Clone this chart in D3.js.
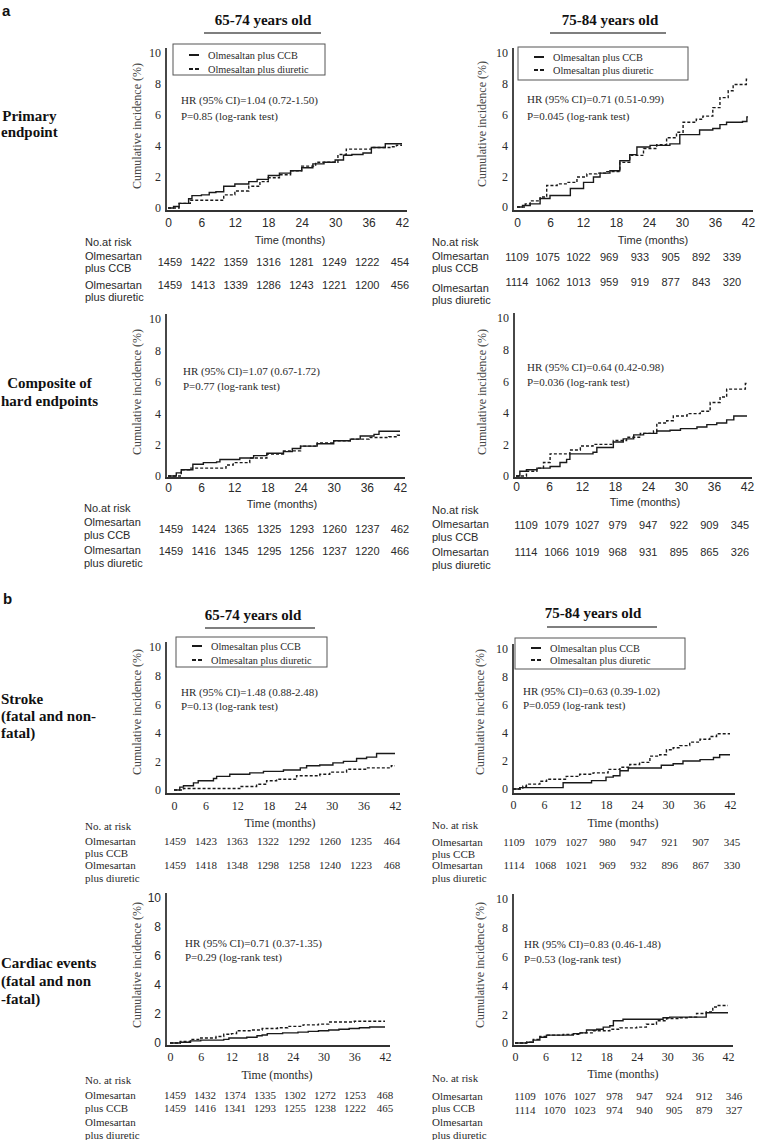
<!DOCTYPE html>
<html><head><meta charset="utf-8">
<script src="https://cdn.jsdelivr.net/npm/d3@7"></script>
<style>body{margin:0;background:#fff;} svg{display:block;}</style>
</head><body><svg id="c" width="758" height="1140"></svg>
<script>
// ---------- data ----------
const months = [0, 6, 12, 18, 24, 30, 36, 42];
const yTicks = [0, 2, 4, 6, 8, 10];
const legendLabels = ["Olmesaltan plus CCB", "Olmesaltan plus diuretic"];
const groupLabels = ["Olmesartan", "plus CCB", "Olmesartan", "plus diuretic"];
const ageTitles = ["65-74 years old", "75-84 years old"];

// cumulative incidence step points [month, %]
const aPrim65Ccb = [[0,0],[1,0.1],[2,0.3],[3.7,0.6],[4.3,0.8],[6,0.85],[7.4,1.0],[8.6,1.05],[10,1.4],[12,1.55],[14.5,1.7],[16,1.85],[18,2.1],[20,2.25],[22,2.4],[24,2.6],[26,2.85],[28,2.95],[30,3.1],[31.5,3.4],[33,3.45],[35,3.55],[36.5,3.9],[39,4.15],[42,4.15]];
const aPrim65Diu = [[0,0],[2,0.3],[4,0.5],[8,0.5],[10,0.85],[12,1.1],[14.5,1.4],[16.5,1.7],[18,1.95],[20,2.15],[22,2.4],[24,2.7],[26.5,2.95],[30.5,3.45],[32,3.8],[36.5,3.9],[40,3.95],[41,4.05],[42,4.05]];
const aPrim75Ccb = [[0,0],[1,0.1],[2.4,0.2],[4.2,0.55],[6,0.75],[9.7,1.2],[12.1,1.6],[13.9,1.95],[15.1,2.2],[16.9,2.35],[18.7,3.0],[20.5,3.4],[21.8,3.9],[24.2,4.0],[27.8,4.1],[29.6,4.7],[33.2,5.0],[35.6,5.1],[36.9,5.35],[38.1,5.5],[41,5.55],[41.8,5.85],[42,5.85]];
const aPrim75Diu = [[0,0],[1.5,0.2],[2.4,0.4],[4.2,0.65],[5.4,1.4],[7.3,1.5],[9.1,1.6],[10.9,1.95],[12.7,2.15],[14.5,2.2],[16.3,2.3],[18.7,2.9],[20.5,3.35],[23,3.8],[25.4,4.05],[27.2,4.5],[29,4.85],[30.2,5.5],[32.6,5.7],[33.8,5.9],[35.6,6.45],[36.9,7.1],[38.4,7.55],[39.3,7.95],[41.7,8.3],[42,8.3]];
const aHard65Ccb = [[0,0],[1.5,0.2],[2.4,0.4],[4.5,0.75],[6.4,0.85],[8.8,0.9],[9.4,1.05],[13,1.15],[15.5,1.3],[17.9,1.45],[20.9,1.55],[22.5,1.75],[24,1.9],[27,2.05],[30,2.25],[33,2.35],[34.8,2.55],[37.3,2.65],[38.2,2.85],[42,2.85]];
const aHard65Diu = [[0,0],[2.4,0.4],[3.9,0.5],[8.8,0.5],[10.5,0.7],[11.8,0.85],[14.8,1.15],[17.9,1.4],[20.9,1.6],[24,1.9],[27,2.1],[30,2.25],[33,2.35],[36.4,2.45],[40,2.5],[41.5,2.6],[42,2.6]];
const aHard75Ccb = [[0,0],[0.7,0.3],[1.9,0.4],[3.8,0.5],[6.2,0.6],[8,0.85],[9.2,1.05],[9.8,1.4],[14,1.5],[14.7,1.8],[17.7,2.15],[19.5,2.35],[21.4,2.6],[23.2,2.7],[25.6,2.85],[28,2.9],[29.9,3.0],[32.9,3.1],[34.7,3.25],[36.5,3.35],[38.3,3.55],[39.6,3.8],[42,3.8]];
const aHard75Diu = [[0,0],[1.9,0.3],[3.8,0.5],[5,0.85],[6.2,1.4],[9.8,1.65],[11.7,1.9],[14,2.0],[17.7,2.25],[20.1,2.45],[22.6,2.7],[25,2.85],[25.6,3.35],[27.4,3.5],[28.6,3.8],[31.1,3.95],[33.5,4.1],[35.3,4.65],[37.1,5.0],[38.3,5.5],[41.7,5.85],[42,5.85]];
const bStroke65Ccb = [[0,0],[1.1,0.2],[1.8,0.3],[3.7,0.5],[4.6,0.65],[7.5,0.8],[8.1,0.95],[10.6,1.1],[14.4,1.2],[17,1.3],[20.8,1.4],[24,1.55],[25.2,1.7],[27.7,1.75],[30.2,1.9],[32.2,2.0],[34.7,2.2],[36.6,2.3],[38.5,2.55],[42,2.55]];
const bStroke65Diu = [[0,0],[1.8,0.1],[11.3,0.1],[12.5,0.25],[15.7,0.4],[17.6,0.65],[19.5,0.75],[23.3,1.0],[27.7,1.1],[29.6,1.25],[32.8,1.45],[36.6,1.55],[41.3,1.7],[42,1.7]];
const bStroke75Ccb = [[0,0],[1.3,0.1],[9.7,0.45],[15.2,0.6],[18,0.85],[19.4,0.95],[20.7,1.3],[22.3,1.5],[28.7,1.7],[31,1.8],[32.9,2.0],[36.2,2.1],[38.8,2.25],[40,2.45],[42,2.45]];
const bStroke75Diu = [[0,0],[1.9,0.2],[2.6,0.35],[5.2,0.55],[6.5,0.7],[10.3,0.9],[12.9,1.05],[15.5,1.15],[18.4,1.4],[20.7,1.55],[22.6,1.75],[24.5,1.9],[26.5,2.35],[28.4,2.45],[29.7,2.8],[31,2.95],[32.3,3.1],[34.2,3.35],[36.2,3.55],[38.1,3.75],[39.4,3.95],[42,3.95]];
const bCard65Ccb = [[0,0],[2,0.05],[4,0.15],[6,0.2],[10.5,0.25],[11.5,0.35],[15,0.4],[17,0.5],[18,0.55],[19,0.65],[22,0.7],[25,0.75],[27,0.8],[29,0.85],[31,0.9],[33,0.95],[35,1.0],[37,1.05],[39,1.1],[42,1.1]];
const bCard65Diu = [[0,0],[2,0.1],[4,0.25],[6,0.35],[9,0.45],[10.5,0.6],[12,0.65],[13,0.85],[16,0.9],[18,1.0],[21,1.05],[23,1.15],[26,1.25],[29,1.3],[31,1.45],[36,1.5],[42,1.5]];
const bCard75Ccb = [[0,0],[2.3,0.05],[3.6,0.2],[4.9,0.4],[6.2,0.55],[11.5,0.65],[12.8,0.7],[14.1,0.9],[16.1,0.95],[17.4,1.1],[18.7,1.2],[19.4,1.55],[21.3,1.65],[29.2,1.75],[30.5,1.8],[37.7,2.1],[42,2.1]];
const bCard75Diu = [[0,0],[2.3,0.05],[3.6,0.25],[4.9,0.45],[6.2,0.55],[9.5,0.6],[12.8,0.7],[15.4,0.85],[18.7,0.95],[20.7,1.05],[24,1.1],[25.9,1.3],[27.9,1.55],[29.9,1.7],[32.5,1.75],[34.4,1.8],[35.8,2.05],[37.7,2.15],[39,2.5],[39.7,2.6],[42,2.6]];

// numbers at risk
const aPrim65RiskCcb = [1459,1422,1359,1316,1281,1249,1222,454];
const aPrim65RiskDiu = [1459,1413,1339,1286,1243,1221,1200,456];
const aPrim75RiskCcb = [1109,1075,1022,969,933,905,892,339];
const aPrim75RiskDiu = [1114,1062,1013,959,919,877,843,320];
const aHard65RiskCcb = [1459,1424,1365,1325,1293,1260,1237,462];
const aHard65RiskDiu = [1459,1416,1345,1295,1256,1237,1220,466];
const aHard75RiskCcb = [1109,1079,1027,979,947,922,909,345];
const aHard75RiskDiu = [1114,1066,1019,968,931,895,865,326];
const bStroke65RiskCcb = [1459,1423,1363,1322,1292,1260,1235,464];
const bStroke65RiskDiu = [1459,1418,1348,1298,1258,1240,1223,468];
const bStroke75RiskCcb = [1109,1079,1027,980,947,921,907,345];
const bStroke75RiskDiu = [1114,1068,1021,969,932,896,867,330];
const bCard65RiskCcb = [1459,1432,1374,1335,1302,1272,1253,468];
const bCard65RiskDiu = [1459,1416,1341,1293,1255,1238,1222,465];
const bCard75RiskCcb = [1109,1076,1027,978,947,924,912,346];
const bCard75RiskDiu = [1114,1070,1023,974,940,905,879,327];

// hazard ratio annotations
const aPrim65Stats = ["HR (95% CI)=1.04 (0.72-1.50)", "P=0.85 (log-rank test)"];
const aPrim75Stats = ["HR (95% CI)=0.71 (0.51-0.99)", "P=0.045 (log-rank test)"];
const aHard65Stats = ["HR (95% CI)=1.07 (0.67-1.72)", "P=0.77 (log-rank test)"];
const aHard75Stats = ["HR (95% CI)=0.64 (0.42-0.98)", "P=0.036 (log-rank test)"];
const bStroke65Stats = ["HR (95% CI)=1.48 (0.88-2.48)", "P=0.13 (log-rank test)"];
const bStroke75Stats = ["HR (95% CI)=0.63 (0.39-1.02)", "P=0.059 (log-rank test)"];
const bCard65Stats = ["HR (95% CI)=0.71 (0.37-1.35)", "P=0.29 (log-rank test)"];
const bCard75Stats = ["HR (95% CI)=0.83 (0.46-1.48)", "P=0.53 (log-rank test)"];

// ---------- styling / layout ----------
const SERIF = "'Liberation Serif','Times New Roman',serif";
const SANS = "'Liberation Sans',Arial,sans-serif";
const TXT = "#2a2a2a";
const svg = d3.select("#c");

const panels = [
 {ccb:aPrim65Ccb, diu:aPrim65Diu, rc:aPrim65RiskCcb, rd:aPrim65RiskDiu, stats:aPrim65Stats, yF:SERIF, xF:SANS, tF:SANS, head:"No.at risk",
  L:{ax:166,x0:168,x1:402,y0:208,y10:53,axisY:211,xLabY:223,xTitle:[290,240],yLab:[137,126],hr:[181,100,116],legend:[173,325,44,75,55,69],
     tbl:{lx:85,ly:[242,256,268,285,297],ny:[262,285],c:[170,400]}}},
 {ccb:aPrim75Ccb, diu:aPrim75Diu, rc:aPrim75RiskCcb, rd:aPrim75RiskDiu, stats:aPrim75Stats, yF:SERIF, xF:SANS, tF:SANS, head:"No.at risk",
  L:{ax:513,x0:517,x1:748,y0:207,y10:53,axisY:211,xLabY:223,xTitle:[653,240],yLab:[482,124],hr:[527,99,116],legend:[518,688,47,80,57,70],
     tbl:{lx:432,ly:[242,256,268,288,300],ny:[257,282],c:[517,732]}}},
 {ccb:aHard65Ccb, diu:aHard65Diu, rc:aHard65RiskCcb, rd:aHard65RiskDiu, stats:aHard65Stats, yF:SERIF, xF:SANS, tF:SANS, head:"No.at risk",
  L:{ax:166,x0:168,x1:400,y0:476,y10:319,axisY:478,xLabY:488,xTitle:[282,504],yLab:[137,392],hr:[183,371,386],legend:null,
     tbl:{lx:84,ly:[508,522,535,550,563],ny:[529,551],c:[171,400]}}},
 {ccb:aHard75Ccb, diu:aHard75Diu, rc:aHard75RiskCcb, rd:aHard75RiskDiu, stats:aHard75Stats, yF:SERIF, xF:SANS, tF:SANS, head:"No.at risk",
  L:{ax:514,x0:516,x1:747,y0:476,y10:318,axisY:478,xLabY:487,xTitle:[645,502],yLab:[482,392],hr:[527,367,382],legend:null,
     tbl:{lx:432,ly:[510,524,537,552,565],ny:[525,552],c:[526,740]}}},
 {ccb:bStroke65Ccb, diu:bStroke65Diu, rc:bStroke65RiskCcb, rd:bStroke65RiskDiu, stats:bStroke65Stats, yF:SERIF, xF:SERIF, tF:SERIF, head:"No. at risk",
  L:{ax:166,x0:174,x1:395,y0:790,y10:647,axisY:794,xLabY:806,xTitle:[280,823],yLab:[137,712],hr:[181,692,706],legend:[176,327,637,667,646,660],
     tbl:{lx:85,ly:[826,841,853,865,878],ny:[841,865],c:[175,392]}}},
 {ccb:bStroke75Ccb, diu:bStroke75Diu, rc:bStroke75RiskCcb, rd:bStroke75RiskDiu, stats:bStroke75Stats, yF:SERIF, xF:SERIF, tF:SERIF, head:"No. at risk",
  L:{ax:513,x0:513,x1:730,y0:789,y10:649,axisY:794,xLabY:805,xTitle:[623,823],yLab:[480,712],hr:[523,691,705],legend:[515,685,638,669,648,660],
     tbl:{lx:432,ly:[825,842,854,865,878],ny:[842,865],c:[514,732]}}},
 {ccb:bCard65Ccb, diu:bCard65Diu, rc:bCard65RiskCcb, rd:bCard65RiskDiu, stats:bCard65Stats, yF:SANS, xF:SERIF, tF:SERIF, head:"No. at risk",
  L:{ax:166,x0:170,x1:385,y0:1043,y10:898,axisY:1046,xLabY:1057,xTitle:[277,1075],yLab:[137,965],hr:[185,943,957],legend:null,
     tbl:{lx:85,ly:[1080,1095,1108,1122,1135],ny:[1095,1108],c:[175,385]}}},
 {ccb:bCard75Ccb, diu:bCard75Diu, rc:bCard75RiskCcb, rd:bCard75RiskDiu, stats:bCard75Stats, yF:SERIF, xF:SERIF, tF:SERIF, head:"No. at risk",
  L:{ax:513,x0:515,x1:728,y0:1043,y10:899,axisY:1046,xLabY:1057,xTitle:[623,1074],yLab:[480,965],hr:[524,944,959],legend:null,
     tbl:{lx:432,ly:[1078,1096,1108,1122,1135],ny:[1096,1110],c:[525,734]}}}
];

function txt(g, s, x, y, font, size, opts={}) {
  return g.append("text").attr("x", x).attr("y", y).attr("dominant-baseline", "central")
    .attr("font-family", font).attr("font-size", size).attr("fill", opts.fill || TXT)
    .attr("font-weight", opts.bold ? "bold" : null)
    .attr("text-anchor", opts.anchor || "start").text(s);
}

function drawPanel(p) {
  const L = p.L;
  const g = svg.append("g");
  const x = d3.scaleLinear().domain([0, 42]).range([L.x0, L.x1]);
  const y = d3.scaleLinear().domain([0, 10]).range([L.y0, L.y10]);

  // y axis ticks (labels only)
  const ya = g.append("g").attr("transform", `translate(${L.ax},0)`)
    .call(d3.axisLeft(y).tickValues(yTicks).tickSize(0).tickPadding(5).tickFormat(d3.format("d")));
  ya.select(".domain").remove();
  ya.selectAll("text").attr("font-family", p.yF).attr("font-size", 12).attr("fill", TXT);

  // x axis ticks (labels only)
  const xa = g.append("g").attr("transform", `translate(0,${L.xLabY})`)
    .call(d3.axisBottom(x).tickValues(months).tickSize(0).tickPadding(0).tickFormat(d3.format("d")));
  xa.select(".domain").remove();
  xa.selectAll("text").attr("y", 0).attr("dy", "0.35em").attr("font-family", p.xF).attr("font-size", 12).attr("fill", TXT);

  // axis lines
  g.append("line").attr("x1", L.ax).attr("x2", L.ax).attr("y1", L.y10 - 5).attr("y2", L.axisY)
    .attr("stroke", "#333").attr("stroke-width", 1.8);
  g.append("line").attr("x1", L.ax - 1).attr("x2", L.x1 + 5).attr("y1", L.axisY).attr("y2", L.axisY)
    .attr("stroke", "#333").attr("stroke-width", 1.8);

  // y label
  g.append("text").attr("transform", `translate(${L.yLab[0]},${L.yLab[1]}) rotate(-90)`)
    .attr("text-anchor", "middle").attr("dominant-baseline", "central")
    .attr("font-family", SERIF).attr("font-size", 12).attr("fill", "#444")
    .text("Cumulative incidence (%)");

  // x title
  txt(g, "Time (months)", L.xTitle[0], L.xTitle[1], p.xF === SANS ? SANS : SERIF, p.xF === SANS ? 11 : 12, {anchor: "middle"});

  // curves
  const line = d3.line().x(d => x(d[0])).y(d => y(d[1])).curve(d3.curveStepAfter);
  g.append("path").datum(p.ccb).attr("d", line).attr("fill", "none")
    .attr("stroke", "#1a1a1a").attr("stroke-width", 1.4);
  g.append("path").datum(p.diu).attr("d", line).attr("fill", "none")
    .attr("stroke", "#1a1a1a").attr("stroke-width", 1.4).attr("stroke-dasharray", "3,2");

  // stats text
  txt(g, p.stats[0], L.hr[0], L.hr[1], SERIF, 11);
  txt(g, p.stats[1], L.hr[0], L.hr[2], SERIF, 11);

  // legend
  if (L.legend) {
    const [lx0, lx1, ly0, ly1, r1, r2] = L.legend;
    g.append("rect").attr("x", lx0).attr("y", ly0).attr("width", lx1 - lx0).attr("height", ly1 - ly0)
      .attr("fill", "#fff").attr("stroke", "#555").attr("stroke-width", 1);
    g.append("line").attr("x1", lx0 + 16).attr("x2", lx0 + 26).attr("y1", r1).attr("y2", r1)
      .attr("stroke", "#1a1a1a").attr("stroke-width", 2);
    g.append("line").attr("x1", lx0 + 16).attr("x2", lx0 + 26).attr("y1", r2).attr("y2", r2)
      .attr("stroke", "#1a1a1a").attr("stroke-width", 2).attr("stroke-dasharray", "4,2");
    txt(g, legendLabels[0], lx0 + 35, r1, SERIF, 10.3);
    txt(g, legendLabels[1], lx0 + 35, r2, SERIF, 10.3);
  }

  // at-risk table
  const T = L.tbl;
  const tx = d3.scalePoint().domain(months).range(T.c);
  txt(g, p.head, T.lx, T.ly[0], p.tF, 11);
  groupLabels.forEach((s, i) => txt(g, s, T.lx, T.ly[i + 1], p.tF, 11));
  [p.rc, p.rd].forEach((arr, r) => {
    g.selectAll(null).data(arr).enter().append("text")
      .attr("x", (d, i) => tx(months[i])).attr("y", T.ny[r])
      .attr("dominant-baseline", "central").attr("text-anchor", "middle")
      .attr("font-family", p.tF).attr("font-size", 11).attr("fill", TXT).text(d => d);
  });
}

panels.forEach(drawPanel);

// ---------- section letters, titles, row labels ----------
txt(svg, "a", 2, 10, SANS, 15, {bold: true, fill: "#111"});
txt(svg, "b", 3, 598, SANS, 15, {bold: true, fill: "#111"});

const titlePos = [[263, 20, 204, 321, 33], [610, 20, 550, 666, 33], [253, 615, 205, 315, 628], [593, 613, 547, 657, 627]];
titlePos.forEach((t, i) => {
  txt(svg, ageTitles[i % 2], t[0], t[1], SERIF, 15, {bold: true, anchor: "middle", fill: "#111"});
  svg.append("line").attr("x1", t[2]).attr("x2", t[3]).attr("y1", t[4]).attr("y2", t[4])
    .attr("stroke", "#555").attr("stroke-width", 1.6);
});

const rowLabels = [
  {lines: ["Primary", "endpoint"], ys: [116, 132], center: true},
  {lines: ["Composite of", "hard endpoints"], ys: [383, 401], center: true},
  {lines: ["Stroke", "(fatal and non-", "fatal)"], ys: [699, 716, 733], center: false},
  {lines: ["Cardiac events", "(fatal and non", "-fatal)"], ys: [963, 981, 999], center: false}
];
rowLabels.forEach(r => {
  const ts = r.lines.map((s, i) => txt(svg, s, 1, r.ys[i], SERIF, 15, {bold: true, fill: "#111"}));
  if (r.center) {
    const w = d3.max(ts, t => t.node().getComputedTextLength());
    ts.forEach(t => t.attr("x", 1 + w / 2).attr("text-anchor", "middle"));
  }
});
</script>
</body></html>
